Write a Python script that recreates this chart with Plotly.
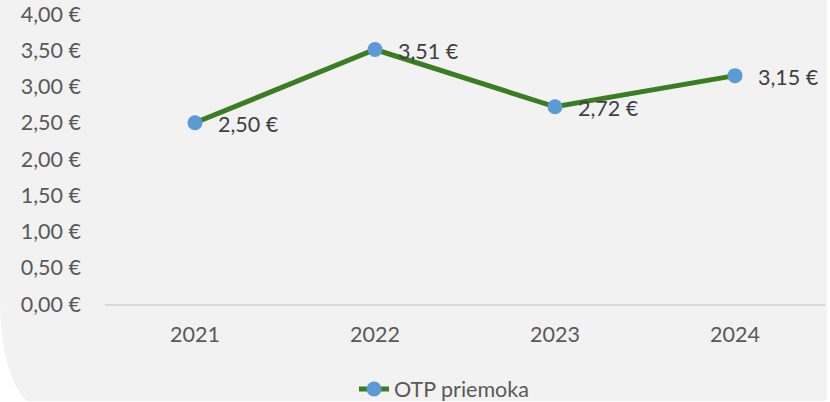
import plotly.graph_objects as go

years = ["2021", "2022", "2023", "2024"]
values = [2.50, 3.51, 2.72, 3.15]
value_labels = ["2,50 €", "3,51 €", "2,72 €", "3,15 €"]
series_name = "OTP priemoka"
y_tick_vals = [0, 0.5, 1.0, 1.5, 2.0, 2.5, 3.0, 3.5, 4.0]
y_tick_text = ["0,00 €", "0,50 €", "1,00 €", "1,50 €", "2,00 €", "2,50 €", "3,00 €", "3,50 €", "4,00 €"]

W, H = 830, 402
ML, MR, MT, MB = 105, 5, 14, 98
PW, PH = W - ML - MR, H - MT - MB

def px(x):
    return (x - ML) / PW

def py(y):
    return ((H - MB) - y) / PH

FONT = "Lato"
FS = 21.5

fig = go.Figure()
fig.add_trace(go.Scatter(
    x=years, y=values, name=series_name, mode="lines+markers",
    line=dict(color="#3b7d23", width=5),
    marker=dict(color="#5b9bd5", size=15, line=dict(width=0)),
    hoverinfo="skip",
))

for i, (y, t) in enumerate(zip(values, value_labels)):
    fig.add_annotation(x=i, y=y, xref="x", yref="y", text=t, showarrow=False,
                       xanchor="left", yanchor="middle", xshift=21, yshift=-1,
                       font=dict(family=FONT, size=FS, color="#404040"))

# card background with rounded bottom-left corner
curve = [(0, 300), (0.5, 318), (1.7, 333), (4, 350), (8, 367), (15, 385), (22, 396), (27, 401)]
pts = [(0, -20), (827, -20), (827, 397)]
path = f"M {px(pts[0][0])},{py(pts[0][1])}"
for (a, b) in pts[1:]:
    path += f" L {px(a)},{py(b)}"
path += f" Q {px(827)},{py(401)} {px(823)},{py(401)}"
for (a, b) in reversed(curve):
    path += f" L {px(a)},{py(b)}"
path += " Z"
fig.add_shape(type="path", path=path, xref="paper", yref="paper",
              fillcolor="#f2f2f2", line=dict(width=0), layer="below")

fig.update_layout(
    width=W, height=H,
    margin=dict(l=ML, r=MR, t=MT, b=MB, autoexpand=False),
    paper_bgcolor="white", plot_bgcolor="rgba(0,0,0,0)",
    font=dict(family=FONT, size=FS, color="#595959"),
    showlegend=True,
    legend=dict(orientation="h", x=px(354), xanchor="left", y=py(389), yanchor="middle",
                font=dict(family=FONT, size=FS, color="#595959"), bgcolor="rgba(0,0,0,0)"),
    xaxis=dict(type="category", range=[-0.5, 3.5], showgrid=False, zeroline=False,
               showline=True, linecolor="#d9d9d9", linewidth=2, ticks="", automargin=False,
               ticklabelstandoff=10, tickfont=dict(family=FONT, size=FS, color="#595959")),
    yaxis=dict(range=[0, 4], tickvals=y_tick_vals, ticktext=y_tick_text, showgrid=False,
               zeroline=False, showline=False, ticks="", ticklabelstandoff=23, automargin=False,
               tickfont=dict(family=FONT, size=FS, color="#595959")),
)

fig.write_html("out.html", config={"displayModeBar": False},
               post_script="document.body.style.margin='0';document.body.style.overflow='hidden';")
